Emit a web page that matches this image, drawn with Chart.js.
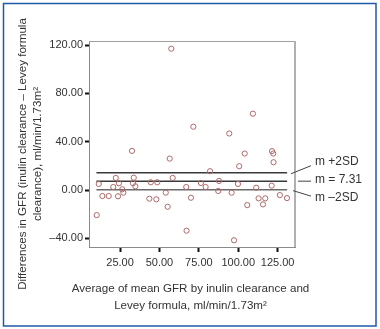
<!DOCTYPE html>
<html><head><meta charset="utf-8">
<script src="https://cdn.jsdelivr.net/npm/chart.js@4.4.1/dist/chart.umd.min.js"></script>
<style>html,body{margin:0;padding:0;background:#fff}canvas{display:block}</style>
</head><body>
<canvas id="c" width="380" height="329"></canvas>
<script>
// Average of mean GFR (x) and difference (y)
const avgGFR = [10.2, 11.5, 13.8, 17.8, 20.7, 22.3, 24.3, 23.7, 26.4, 27.1,
  32.6, 33.2, 33.7, 34.7, 43.6, 44.5, 48.0, 48.6, 54.0, 55.2,
  56.5, 58.4, 57.5, 67.0, 67.2, 70.0, 71.5, 76.3, 79.3, 82.1,
  87.3, 87.8, 94.3, 95.8, 97.3, 99.8, 100.6, 104.1, 105.7, 109.3,
  111.4, 112.9, 115.7, 117.1, 121.2, 121.4, 122.2, 122.4, 126.4, 130.9];
const diffGFR = [-20.8, 5.0, -5.0, -5.0, 2.5, 10.0, 5.6, -5.2, 0.6, -2.2,
  32.4, 5.6, 10.2, 3.1, -7.2, 6.4, -7.7, 6.4, -2.2, -13.9,
  26.0, 10.0, 117.0, 2.5, -33.7, -6.4, 52.4, 5.8, 2.5, 15.6,
  -0.8, 7.5, 46.8, -2.2, -41.6, 5.0, 19.7, 30.2, -12.5, 63.2,
  1.9, -6.9, -11.9, -6.9, 3.6, 32.2, 30.2, 23.0, -4.2, -6.7];
const xTicks = [25, 50, 75, 100, 125];
const xTickLabels = ['25.00', '50.00', '75.00', '100.00', '125.00'];
const yTicks = [-40, 0, 40, 80, 120];
const yTickLabels = ['\u201340.00', '0.00', '40.00', '80.00', '120.00'];
const limitNames = ['m +2SD', 'm = 7.31', 'm \u20132SD'];
const limitValues = [14.31, 7.31, 0.31];
const limitSpan = [10, 131];
const xTitle = ['Average of mean GFR by inulin clearance and', 'Levey formula, ml/min/1.73m\u00b2'];
const yTitle = ['Differences in GFR (inulin clearance \u2013 Levey formula', 'clearance), ml/min/1.73m\u00b2'];

const points = avgGFR.map((x, i) => ({x: x, y: diffGFR[i]}));
const lineColors = ['#3a3a3a', '#3a3a3a', '#6a6a6a'];
const limitSets = limitValues.map((v, i) => ({
  type: 'line',
  data: limitSpan.map(x => ({x: x, y: v})),
  borderColor: lineColors[i], borderWidth: 1.5,
  pointRadius: 0, showLine: true, fill: false, order: 2
}));

const FONT = 'Liberation Sans, Arial, sans-serif';
const TEXT = '#333';

const decor = {
  id: 'decor',
  beforeDraw(chart) {
    const ctx = chart.ctx;
    ctx.save();
    ctx.fillStyle = '#fff';
    ctx.fillRect(0, 0, chart.width, chart.height);
    ctx.strokeStyle = '#1f5aa6';
    ctx.lineWidth = 1.5;
    ctx.strokeRect(3.5, 3.5, 372.5, 322.5);
    ctx.restore();
  },
  afterDraw(chart) {
    const ctx = chart.ctx;
    const a = chart.chartArea;
    const ys = chart.scales.y;
    ctx.save();
    // top & right frame of plot
    ctx.strokeStyle = '#a0a0a0';
    ctx.lineWidth = 1;
    ctx.beginPath();
    ctx.moveTo(a.left, a.top + 0.5);
    ctx.lineTo(a.right, a.top + 0.5);
    ctx.stroke();
    ctx.lineWidth = 2;
    ctx.strokeStyle = '#b0b0b0';
    ctx.beginPath();
    ctx.moveTo(a.right, a.top);
    ctx.lineTo(a.right, a.bottom);
    ctx.stroke();
    // callouts: [start x offset, end y offset, text y offset from line end]
    const offs = [[-4, -7, -4], [3, 0, -1], [-2, 6.5, 1.5]];
    ctx.strokeStyle = '#444';
    ctx.lineWidth = 1;
    ctx.fillStyle = TEXT;
    ctx.font = '12px ' + FONT;
    ctx.textBaseline = 'middle';
    ctx.textAlign = 'left';
    limitValues.forEach((v, i) => {
      const py = ys.getPixelForValue(v);
      const o = offs[i];
      ctx.beginPath();
      ctx.moveTo(a.right + o[0], py + (i === 1 ? 0 : 1));
      ctx.lineTo(a.right + 16, py + o[1]);
      ctx.stroke();
      ctx.fillText(limitNames[i], a.right + 20, py + o[1] + o[2]);
    });
    // axis titles
    ctx.font = '11.6px ' + FONT;
    ctx.textAlign = 'center';
    const cx = (a.left + a.right) / 2 - 1.5;
    ctx.fillText(xTitle[0], cx, 288.5);
    ctx.fillText(xTitle[1], cx, 306);
    ctx.save();
    ctx.translate(22.5, 154);
    ctx.rotate(-Math.PI / 2);
    ctx.fillText(yTitle[0], 0, 0);
    ctx.fillText(yTitle[1], 0, 15.5);
    ctx.restore();
    ctx.restore();
  }
};

new Chart(document.getElementById('c'), {
  type: 'scatter',
  data: {
    datasets: [{
      data: points,
      borderColor: '#b06a6a', backgroundColor: 'rgba(0,0,0,0)',
      borderWidth: 1, pointRadius: 2.6, pointStyle: 'circle', order: 0
    }].concat(limitSets)
  },
  options: {
    responsive: false, animation: false, devicePixelRatio: 1,
    layout: {padding: {top: 41, right: 85, left: 0, bottom: 0}},
    plugins: {legend: {display: false}, tooltip: {enabled: false}},
    scales: {
      x: {
        type: 'linear', min: 5.3, max: 136,
        afterFit(s) { s.height = 82; },
        afterBuildTicks(s) { s.ticks = xTicks.map(v => ({value: v})); },
        ticks: {callback: (v, i) => xTickLabels[i], font: {family: FONT, size: 11}, color: TEXT, padding: 4, maxRotation: 0},
        grid: {drawOnChartArea: false, drawTicks: true, tickLength: 5, tickColor: '#111', tickWidth: 2},
        border: {display: true, color: '#8a8a8a', width: 1}
      },
      y: {
        type: 'linear', min: -47.2, max: 123.4,
        afterFit(s) { s.width = 89; },
        afterBuildTicks(s) { s.ticks = yTicks.map(v => ({value: v})); },
        ticks: {callback: (v, i) => yTickLabels[i], font: {family: FONT, size: 11}, color: TEXT, padding: 2},
        grid: {drawOnChartArea: false, drawTicks: true, tickLength: 4, tickColor: '#111', tickWidth: 2},
        border: {display: true, color: '#8a8a8a', width: 1}
      }
    }
  },
  plugins: [decor]
});
</script>
</body></html>
